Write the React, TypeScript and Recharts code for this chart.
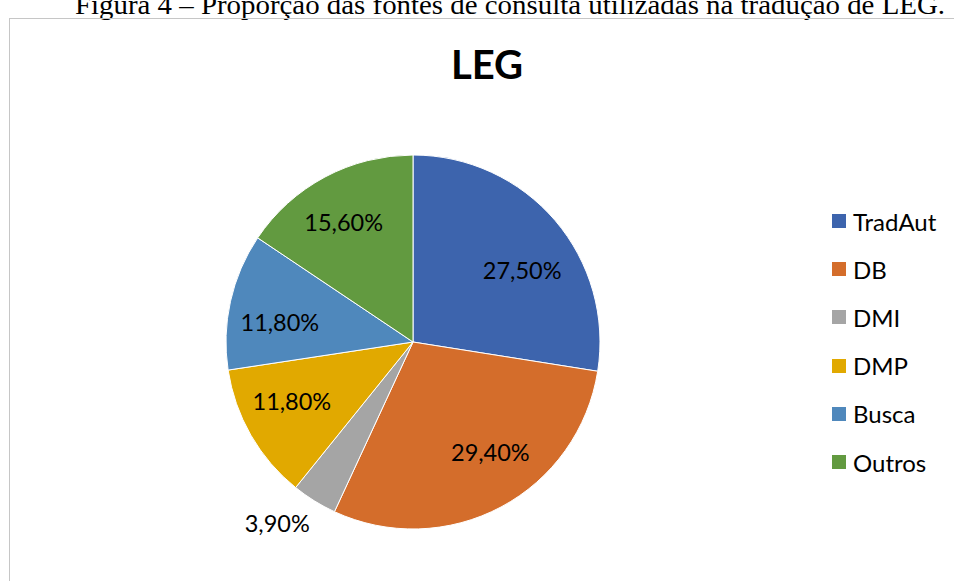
import React from 'react';
import { PieChart, Pie, Cell, Legend } from 'recharts';

const categories = ['TradAut', 'DB', 'DMI', 'DMP', 'Busca', 'Outros'];
const shares = [27.5, 29.4, 3.9, 11.8, 11.8, 15.6];
const shareLabels = ['27,50%', '29,40%', '3,90%', '11,80%', '11,80%', '15,60%'];
const COLORS = ['#3D64AD', '#D46D2B', '#A5A5A5', '#E1A900', '#4F88BC', '#629A40'];
// label distance from centre (share of radius) and angle nudge in degrees, like Excel's best fit
const LABEL_RADIUS = [0.7, 0.72, 1.21, 0.72, 0.72, 0.74];
const LABEL_NUDGE = [-7, 7, -5, -4, 4, 2];

const chartData = categories.map((name, i) => ({ name, value: shares[i], label: shareLabels[i] }));

const FONT = 'Lato, "Open Sans", sans-serif';
const RADIAN = Math.PI / 180;

const renderLabel = (props: any) => {
  const { cx, cy, midAngle, outerRadius, index } = props;
  const r = outerRadius * LABEL_RADIUS[index];
  const a = (midAngle + LABEL_NUDGE[index]) * RADIAN;
  const x = cx + r * Math.cos(-a);
  const y = cy + r * Math.sin(-a);
  return (
    <text x={x} y={y} textAnchor="middle" dominantBaseline="central" fill="#000" fontSize={23.5} fontFamily={FONT}>
      {chartData[index].label}
    </text>
  );
};

const renderLegend = () => (
  <div style={{ fontFamily: FONT, fontSize: 24, color: '#000' }}>
    {categories.map((name, i) => (
      <div key={name} style={{ display: 'flex', alignItems: 'center', height: 48.2 }}>
        <span style={{ width: 14, height: 14, background: COLORS[i], marginRight: 7 }} />
        <span>{name}</span>
      </div>
    ))}
  </div>
);

const App: React.FC = () => {
  return (
    <div style={{ position: 'fixed', left: 0, top: 0, width: 954, height: 581, overflow: 'hidden', background: '#fff' }}>
      {/* caption, top cut off as in the page scan */}
      <svg width={954} height={30} style={{ position: 'absolute', left: 0, top: 0 }}>
        <text x={75} y={14} textLength={870} lengthAdjust="spacingAndGlyphs" fontSize={27} fontFamily='"Liberation Serif", "DejaVu Serif", serif' fill="#000">
          Figura 4 – Proporção das fontes de consulta utilizadas na tradução de LEG.
        </text>
      </svg>

      <div style={{ position: 'absolute', left: 9, top: 18, width: 1000, height: 700, border: '1px solid #c6c6c6' }} />

      <div style={{ position: 'absolute', left: 0, width: 974, top: 44, textAlign: 'center', fontFamily: FONT, fontWeight: 700, fontSize: 40, lineHeight: '40px' }}>
        LEG
      </div>

      <div style={{ position: 'absolute', left: 0, top: 0 }}>
        <PieChart width={954} height={581} margin={{ top: 0, right: 0, bottom: 0, left: 0 }}>
          <Pie
            data={chartData}
            dataKey="value"
            nameKey="name"
            cx={413}
            cy={342}
            outerRadius={187}
            startAngle={90}
            endAngle={-270}
            stroke="#fff"
            strokeWidth={1}
            label={renderLabel}
            labelLine={false}
            isAnimationActive={false}
          >
            {chartData.map((_, index) => (
              <Cell key={`cell-${index}`} fill={COLORS[index]} />
            ))}
          </Pie>
          <Legend content={renderLegend} layout="vertical" wrapperStyle={{ position: 'absolute', left: 832, top: 197, width: 122 }} />
        </PieChart>
      </div>
    </div>
  );
};

export default App;
